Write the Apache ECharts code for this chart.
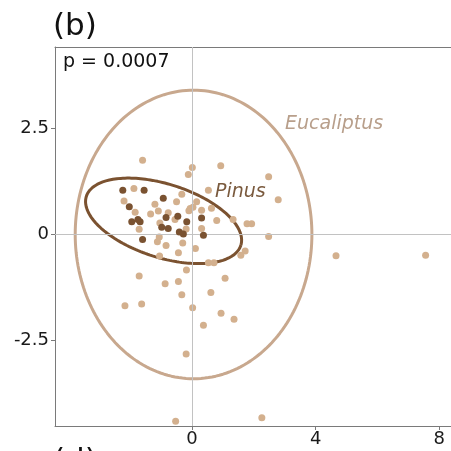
<!DOCTYPE html>
<html><head><meta charset="utf-8">
<script src="https://cdn.jsdelivr.net/npm/echarts@6/dist/echarts.min.js"></script>
<style>html,body{margin:0;padding:0;background:#fff}#c{width:451px;height:451px}</style>
</head><body><div id="c"></div>
<script>
const xTicks = [0, 4, 8];
const yTicks = [-2.5, 0, 2.5];
const speciesNames = ['Eucaliptus', 'Pinus'];
const pValueText = 'p = 0.0007';

const eucaliptusPoints = [
  [-1.60, 1.75], [0.01, 1.58], [0.93, 1.62], [-0.12, 1.41], [2.48, 1.36],
  [-1.88, 1.08], [-2.20, 0.79], [-0.33, 0.95], [0.53, 1.04], [-0.50, 0.77],
  [-1.20, 0.71], [0.15, 0.77], [-1.84, 0.52], [-1.34, 0.48], [-1.09, 0.55],
  [-0.06, 0.61], [0.03, 0.64], [-0.10, 0.56], [0.31, 0.57], [0.63, 0.62],
  [-0.55, 0.35], [-1.04, 0.27], [0.80, 0.33], [-1.71, 0.12], [0.31, 0.14],
  [-0.19, 0.13], [-1.06, -0.06], [-1.12, -0.17], [-0.84, -0.26], [-0.30, -0.20],
  [0.11, -0.33], [-0.44, -0.43], [-1.05, -0.51], [1.33, 0.35], [1.78, 0.25],
  [1.93, 0.25], [2.48, -0.05], [1.72, -0.39], [1.58, -0.49], [0.53, -0.67],
  [0.71, -0.67], [-0.18, -0.84], [-1.71, -0.98], [1.07, -1.03], [-0.44, -1.11],
  [-0.87, -1.16], [-0.33, -1.42], [0.61, -1.37], [-2.17, -1.68], [-1.63, -1.64],
  [0.02, -1.73], [0.94, -1.86], [1.36, -2.00], [0.37, -2.14], [-0.19, -2.82],
  [-0.53, -4.40], [2.26, -4.32], [2.79, 0.82], [4.66, -0.50], [7.56, -0.49],
  [-0.77, 0.51]
];
const pinusPoints = [
  [-2.24, 1.04], [-1.55, 1.04], [-0.93, 0.85], [-2.03, 0.65], [-1.95, 0.30],
  [-1.68, 0.30], [-1.75, 0.35], [-0.84, 0.40], [-0.46, 0.43], [-0.17, 0.30],
  [0.31, 0.39], [-0.98, 0.17], [-0.77, 0.14], [-0.41, 0.06], [-0.28, 0.01],
  [0.37, -0.02], [-1.60, -0.12]
];

// ellipse: centre and two conjugate radius vectors (data units)
const eucaliptusEllipse = { center: [0.05, 0.0], radiusA: [3.83, 0], radiusB: [0, 3.40] };
const pinusEllipse = { center: [-0.92, 0.32], radiusA: [2.50, -0.578], radiusB: [-0.359, -0.825] };

function ellipsePath(e) {
  const pts = [];
  for (let i = 0; i <= 200; i++) {
    const t = i / 200 * 2 * Math.PI;
    pts.push([
      e.center[0] + e.radiusA[0] * Math.cos(t) + e.radiusB[0] * Math.sin(t),
      e.center[1] + e.radiusA[1] * Math.cos(t) + e.radiusB[1] * Math.sin(t)
    ]);
  }
  return pts;
}

const FONT = 'DejaVu Sans';
// plot area runs past the right edge of the picture (cropped panel)
const xMin = -4.434, xMax = 9.029, yMin = -4.514, yMax = 4.417;
const axisColor = '#7a7a7a';

const chart = echarts.init(document.getElementById('c'), null, { renderer: 'canvas' });
chart.setOption({
  animation: false,
  backgroundColor: '#fff',
  grid: { left: 55, top: 47, width: 416, height: 379, containLabel: false, outerBoundsMode: 'none' },
  xAxis: [{
    type: 'value', min: xMin, max: xMax,
    axisLine: { show: true, onZero: false, lineStyle: { color: axisColor, width: 1 } },
    axisTick: { show: true, customValues: xTicks, length: 4, lineStyle: { color: axisColor } },
    axisLabel: { show: false },
    splitLine: { show: false }
  }, {
    type: 'value', position: 'top', min: xMin, max: xMax,
    axisLine: { show: true, onZero: false, lineStyle: { color: axisColor, width: 1 } },
    axisTick: { show: false }, axisLabel: { show: false }, splitLine: { show: false }
  }],
  yAxis: {
    type: 'value', min: yMin, max: yMax,
    axisLine: { show: true, onZero: false, lineStyle: { color: axisColor, width: 1 } },
    axisTick: { show: true, customValues: yTicks, length: 4, lineStyle: { color: axisColor } },
    axisLabel: { customValues: yTicks, fontSize: 18, fontFamily: FONT, color: '#1a1a1a', margin: 6 },
    splitLine: { show: false }
  },
  series: [
    {
      type: 'scatter', data: [], z: 1, silent: true,
      markLine: {
        silent: true, symbol: 'none', label: { show: false },
        lineStyle: { color: '#c2c2c2', width: 1, type: 'solid' },
        data: [{ xAxis: 0 }, { yAxis: 0 }]
      }
    },
    {
      name: speciesNames[0] + ' ellipse', type: 'line', data: ellipsePath(eucaliptusEllipse),
      showSymbol: false, smooth: false, z: 2,
      lineStyle: { color: '#c8a88e', width: 3 }
    },
    {
      name: speciesNames[1] + ' ellipse', type: 'line', data: ellipsePath(pinusEllipse),
      showSymbol: false, smooth: false, z: 3,
      lineStyle: { color: '#7b5230', width: 3 }
    },
    {
      name: speciesNames[0], type: 'scatter', data: eucaliptusPoints, symbolSize: 7, z: 4,
      itemStyle: { color: '#d3b08e', opacity: 1 }
    },
    {
      name: speciesNames[1], type: 'scatter', data: pinusPoints, symbolSize: 7, z: 5,
      itemStyle: { color: '#7a5231', opacity: 1 }
    },
    {
      // x tick labels, placed through the x scale
      name: 'xTickLabels', type: 'scatter', silent: true, clip: false, z: 6,
      data: xTicks.map(v => [v, yMin]), symbolSize: 1,
      itemStyle: { color: 'rgba(255,255,255,0)' },
      label: {
        show: true, position: 'bottom', distance: 4,
        formatter: p => String(p.value[0]),
        fontSize: 18, fontFamily: FONT, color: '#1a1a1a', opacity: 1
      },
      labelLayout: { hideOverlap: false }
    }
  ],
  graphic: [
    { type: 'text', x: 53, y: 27, style: { text: '(b)', fontSize: 31, fontFamily: FONT, fill: '#111', verticalAlign: 'middle' } },
    { type: 'text', x: 63, y: 62, style: { text: pValueText, fontSize: 19, fontFamily: FONT, fill: '#111', verticalAlign: 'middle' } },
    { type: 'text', x: 285, y: 124, style: { text: speciesNames[0], fontSize: 19, fontStyle: 'italic', fontFamily: FONT, fill: '#b89f8b', verticalAlign: 'middle' } },
    { type: 'text', x: 215, y: 192, style: { text: speciesNames[1], fontSize: 19, fontStyle: 'italic', fontFamily: FONT, fill: '#7a5a3e', verticalAlign: 'middle' } },
    { type: 'text', x: 53, y: 462, style: { text: '(d)', fontSize: 31, fontFamily: FONT, fill: '#111', verticalAlign: 'middle' } }
  ]
});
</script>
</body></html>
